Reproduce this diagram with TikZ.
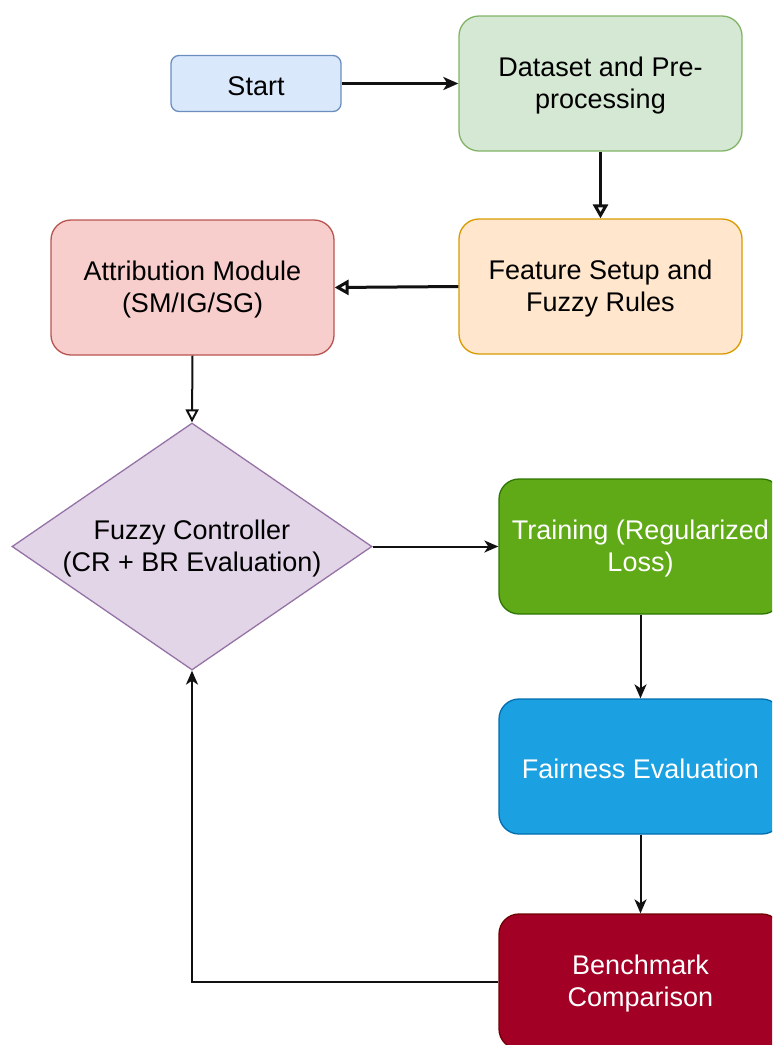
\documentclass[tikz,border=0pt]{standalone}
\usepackage{fontspec}
\setmainfont{Liberation Sans}
\usetikzlibrary{arrows.meta,shapes.geometric}

\definecolor{startfill}{HTML}{DAE8FC}
\definecolor{startline}{HTML}{6C8EBF}
\definecolor{datafill}{HTML}{D5E8D4}
\definecolor{dataline}{HTML}{82B366}
\definecolor{featfill}{HTML}{FFE6CC}
\definecolor{featline}{HTML}{D79B00}
\definecolor{attrfill}{HTML}{F8CECC}
\definecolor{attrline}{HTML}{B85450}
\definecolor{fuzzfill}{HTML}{E1D5E7}
\definecolor{fuzzline}{HTML}{9673A6}
\definecolor{trainfill}{HTML}{60A917}
\definecolor{trainline}{HTML}{2D7600}
\definecolor{fairfill}{HTML}{1BA1E2}
\definecolor{fairline}{HTML}{006EAF}
\definecolor{benchfill}{HTML}{A20025}
\definecolor{benchline}{HTML}{6F0000}
\definecolor{arrowcol}{HTML}{111111}

\tikzset{
  flowbox/.style={rectangle, rounded corners=20pt, line width=1.3pt,
    minimum width=283pt, minimum height=135pt, inner sep=0pt},
  txt/.style={align=center, font=\fontsize{27}{32}\selectfont, inner sep=0pt},
  boxtext/.style={label={[txt, yshift=-2.5pt]center:{#1}}},
  thickflow/.style={draw=arrowcol, line width=3pt},
  thinflow/.style={draw=arrowcol, line width=2pt},
  solidtip/.style={-{Stealth[length=15pt,width=13pt,inset=4pt]}},
  opentip/.style={-{Triangle[open,length=14pt,width=15pt]}},
  smalltip/.style={-{Stealth[length=14pt,width=12pt,inset=4pt]}}
}

\begin{document}
\begin{tikzpicture}[x=1pt,y=-1pt]
  \useasboundingbox (0,0) rectangle (772,1045);
  \clip (0,0) rectangle (772,1045);

  % process steps
  \node[flowbox, rounded corners=8pt, minimum width=170pt, minimum height=56pt,
        fill=startfill, draw=startline, boxtext={Start}] (start) at (256,83.5) {};
  \node[flowbox, fill=datafill, draw=dataline,
        boxtext={Dataset and Pre-\\processing}] (data) at (600.5,83.5) {};
  \node[flowbox, fill=featfill, draw=featline,
        boxtext={Feature Setup and\\Fuzzy Rules}] (feat) at (600.5,286.5) {};
  \node[flowbox, fill=attrfill, draw=attrline,
        boxtext={Attribution Module\\(SM/IG/SG)}] (attr) at (192.5,287.5) {};
  \node[diamond, fill=fuzzfill, draw=fuzzline, line width=1.3pt, inner sep=0pt,
        minimum width=360pt, minimum height=247pt,
        boxtext={Fuzzy Controller\\(CR + BR Evaluation)}] (fuzz) at (192,546.5) {};
  \node[flowbox, fill=trainfill, draw=trainline, label={[txt, text=white, yshift=-2.5pt]center:{Training (Regularized\\Loss)}}]
        (train) at (640.5,546.5) {};
  \node[flowbox, fill=fairfill, draw=fairline, label={[txt, text=white, yshift=-2pt]center:{Fairness Evaluation}}]
        (fair) at (640.5,766.5) {};
  \node[flowbox, fill=benchfill, draw=benchline, label={[txt, text=white, yshift=-2.5pt]center:{Benchmark\\Comparison}}]
        (bench) at (640.5,981.5) {};

  % connectors
  \draw[thickflow, solidtip] (start.east) -- (data.west);
  \draw[thickflow, opentip] (data.south) -- (feat.north);
  \draw[thickflow, opentip] (feat.west) -- (attr.east);
  \draw[thinflow, -{Triangle[open,length=13pt,width=13pt]}] (attr.south) -- (fuzz.north);
  \draw[thinflow, smalltip] (fuzz.east) -- (train.west);
  \draw[thinflow, smalltip] (train.south) -- (fair.north);
  \draw[thinflow, smalltip] (fair.south) -- (bench.north);
  \draw[thinflow, smalltip] (bench.west) -| (fuzz.south);
\end{tikzpicture}
\end{document}
